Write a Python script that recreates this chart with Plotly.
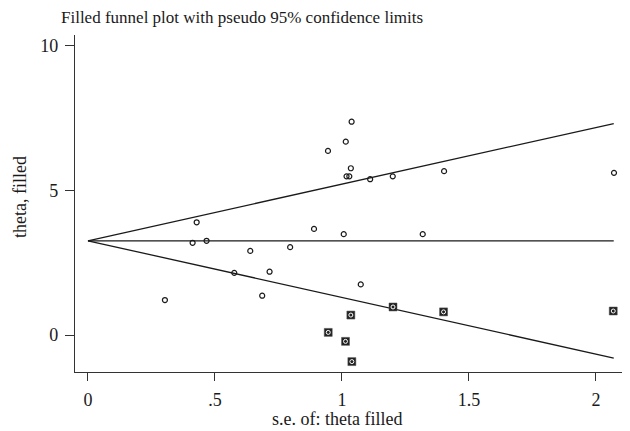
import plotly.graph_objects as go

# Observed studies
obs_se = [0.303, 0.428, 0.412, 0.467, 0.576, 0.639, 0.686, 0.715, 0.796, 0.890,
          0.945, 1.007, 1.015, 1.018, 1.029, 1.035, 1.038, 1.074, 1.111, 1.200,
          1.318, 1.402, 2.071]
obs_theta = [1.21, 3.90, 3.19, 3.26, 2.15, 2.91, 1.36, 2.19, 3.04, 3.67,
             6.37, 3.49, 6.69, 5.49, 5.49, 5.77, 7.38, 1.75, 5.39, 5.49,
             3.49, 5.67, 5.61]

# Filled (imputed) studies
fill_se = [0.946, 1.014, 1.035, 1.039, 1.201, 1.400, 2.068]
fill_theta = [0.09, -0.22, 0.69, -0.92, 0.97, 0.80, 0.83]

theta_pooled = 3.26
se_max = 2.07
x_ticks = [0, 0.5, 1, 1.5, 2]
x_tick_labels = ["0", ".5", "1", "1.5", "2"]
y_ticks = [0, 5, 10]

font = "Liberation Serif, Times New Roman, serif"
ink = "#1a1a1a"

fig = go.Figure()
# pseudo 95% limits and pooled line
fig.add_trace(go.Scatter(x=[0, se_max], y=[theta_pooled, theta_pooled + 1.96 * se_max],
                         mode="lines", line=dict(color=ink, width=1.3), hoverinfo="skip"))
fig.add_trace(go.Scatter(x=[0, se_max], y=[theta_pooled, theta_pooled - 1.96 * se_max],
                         mode="lines", line=dict(color=ink, width=1.3), hoverinfo="skip"))
fig.add_trace(go.Scatter(x=[0, se_max], y=[theta_pooled, theta_pooled],
                         mode="lines", line=dict(color=ink, width=1.3), hoverinfo="skip"))
# observed
fig.add_trace(go.Scatter(x=obs_se, y=obs_theta, mode="markers",
                         marker=dict(symbol="circle-open", size=5, color=ink,
                                     line=dict(width=1.2, color=ink))))
# filled
fig.add_trace(go.Scatter(x=fill_se, y=fill_theta, mode="markers",
                         marker=dict(symbol="square", size=8, color="#222",
                                     line=dict(width=0.5, color="#555"))))
fig.add_trace(go.Scatter(x=fill_se, y=fill_theta, mode="markers",
                         marker=dict(symbol="circle-open", size=4, color="white",
                                     line=dict(width=1, color="white"))))

# page has an 8px body margin; figure is sized to fill the rest
W, H = 622, 423
L, T, B = 67, 27, 59
pw, ph = W - L, H - T - B

fig.update_layout(
    width=W, height=H,
    margin=dict(l=L, r=0, t=T, b=B, autoexpand=False),
    paper_bgcolor="white", plot_bgcolor="white",
    showlegend=False,
    font=dict(family=font, size=18, color=ink),
    title=dict(text="Filled funnel plot with pseudo 95% confidence limits",
               x=53 / W, xanchor="left", y=1 - 3 / H, yanchor="top",
               font=dict(family=font, size=17, color=ink)),
    xaxis=dict(range=[-0.051, 2.134], tickvals=x_ticks, ticktext=x_tick_labels,
               showgrid=False, zeroline=False, showline=True, linecolor="#333",
               linewidth=1.3, ticks="outside", ticklen=8, tickcolor="#333",
               tickwidth=1.3, automargin=False, tickfont=dict(size=18),
               ticklabelstandoff=3),
    yaxis=dict(range=[-1.28, 10.38], tickvals=y_ticks,
               showgrid=False, zeroline=False, showline=True, linecolor="#333",
               linewidth=1.3, ticks="outside", ticklen=9, tickcolor="#333",
               tickwidth=1.3, automargin=False, tickfont=dict(size=18),
               ticklabelstandoff=3),
    annotations=[
        dict(text="s.e. of: theta filled", xref="paper", yref="paper",
             x=(337 - 75) / pw, y=-(419 - 372) / ph, xanchor="center",
             yanchor="middle", showarrow=False, font=dict(family=font, size=18)),
        dict(text="theta, filled", xref="paper", yref="paper",
             x=-(75 - 20) / pw, y=(372 - 197) / ph, xanchor="center",
             yanchor="middle", textangle=-90, showarrow=False,
             font=dict(family=font, size=18)),
    ],
)

fig.write_html("out.html")
